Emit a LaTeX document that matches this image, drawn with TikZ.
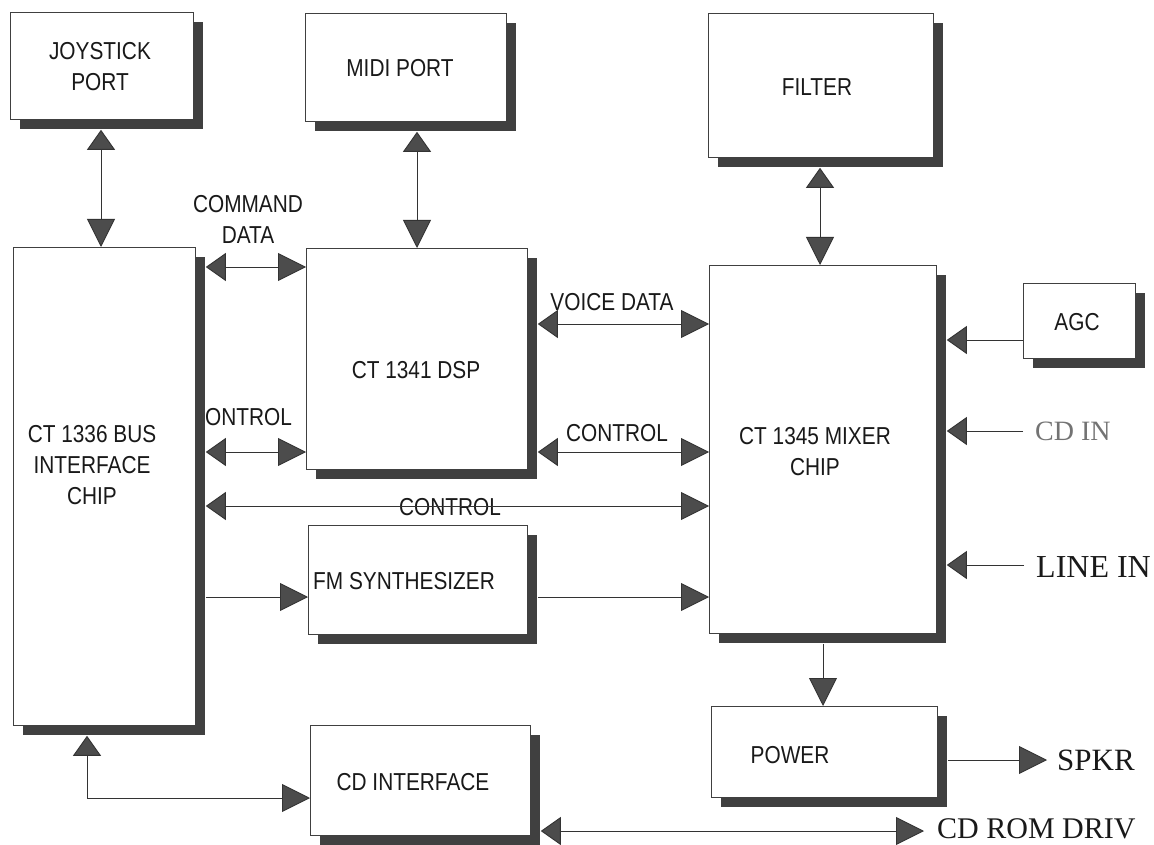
\documentclass[tikz,border=0pt]{standalone}
\usepackage{fontspec}
\setmainfont{Liberation Serif}
\newfontfamily\lsans[FakeStretch=0.85]{Liberation Sans}
\usetikzlibrary{arrows.meta,shadows,calc}
\tikzset{
  big/.tip={Triangle[length=28pt,width=28pt,fill=black!70]},
  sml/.tip={Triangle[length=20pt,width=28pt,fill=black!70]},
}
\begin{document}
\begin{tikzpicture}[x=1pt,y=-1pt,
  box/.style={draw=black!75, line width=0.8pt, fill=white, inner sep=0pt, anchor=north west,
     drop shadow={shadow xshift=10pt, shadow yshift=-10pt, fill=black!75, opacity=1}},
  lbl/.style={font=\lsans\fontsize{24.5}{31}\selectfont, inner sep=0pt, align=center, text=black!90},
  slbl/.style={font=\fontsize{32}{36}\selectfont, inner sep=0pt, anchor=west, text=black!90},
  conn/.style={draw=black!80, line width=0.9pt},
]
\useasboundingbox (0,0) rectangle (1154,845);
\clip (0,0) rectangle (1154,845);

% label partly hidden by the bus box
\node[lbl, anchor=west] (ctrlL) at (190,417) {CONTROL};

% boxes
\node[box, minimum width=183pt, minimum height=107pt] (joy) at (10,12) {};
\node[box, minimum width=201pt, minimum height=108pt] (midi) at (305,13) {};
\node[box, minimum width=225pt, minimum height=144pt] (filter) at (708,13) {};
\node[box, minimum width=182pt, minimum height=478pt] (bus) at (13,247) {};
\node[box, minimum width=221pt, minimum height=221pt] (dsp) at (306,248) {};
\node[box, minimum width=227pt, minimum height=368pt] (mixer) at (709,265) {};
\node[box, minimum width=112pt, minimum height=75pt] (agc) at (1023,283) {};
\node[box, minimum width=219pt, minimum height=109pt] (fm) at (308,525) {};
\node[box, minimum width=226pt, minimum height=91pt] (power) at (711,706) {};
\node[box, minimum width=220pt, minimum height=110pt] (cdi) at (310,725) {};

% texts
\node[lbl] (joytxt) at (100,67) {JOYSTICK\\PORT};
\node[lbl] (miditxt) at (400,68) {MIDI PORT};
\node[lbl] (filtertxt) at (817,87) {FILTER};
\node[lbl] (cmdtxt) at (248,219) {COMMAND\\DATA};
\node[lbl] (dsptxt) at (416,370) {CT 1341 DSP};
\node[lbl] (voicetxt) at (612,302) {VOICE DATA};
\node[lbl] (ctrlR) at (617,433) {CONTROL};
\node[lbl] (ctrlLong) at (450,507) {CONTROL};
\node[lbl] (bustxt) at (92,465) {CT 1336 BUS\\INTERFACE\\CHIP};
\node[lbl] (mixtxt) at (815,452) {CT 1345 MIXER\\CHIP};
\node[lbl] (agctxt) at (1077,322) {AGC};
\node[lbl, anchor=west] (fmtxt) at (313,581) {FM SYNTHESIZER};
\node[lbl] (powertxt) at (790,755) {POWER};
\node[lbl] (cditxt) at (413,782) {CD INTERFACE};
\node[slbl, font=\fontsize{28}{32}\selectfont, text=black!55] (cdin) at (1035,431) {CD IN};
\node[slbl] (linein) at (1036,567) {LINE IN};
\node[slbl, font=\fontsize{31}{35}\selectfont] (spkr) at (1057,760) {SPKR};
\node[slbl, font=\fontsize{30}{34}\selectfont] (cdrom) at (937,829) {CD ROM DRIV};

% connectors
\draw[conn, sml-big] ($(joy.south west)+(91,10)$) -- ($(bus.north west)+(88,0)$);
\draw[conn, sml-big] ($(midi.south west)+(112,10)$) -- ($(dsp.north west)+(111,0)$);
\draw[conn, sml-big] ($(filter.south west)+(112,10)$) -- ($(mixer.north west)+(111,0)$);
\draw[conn, sml-big] ($(bus.north east)+(10,20)$) -- ($(dsp.north west)+(0,19)$);
\draw[conn, sml-big] ($(bus.north east)+(10,205)$) -- ($(dsp.north west)+(0,204)$);
\draw[conn, sml-big] ($(dsp.north east)+(10,76)$) -- ($(mixer.north west)+(0,59)$);
\draw[conn, sml-big] ($(dsp.north east)+(10,204)$) -- ($(mixer.north west)+(0,187)$);
\draw[conn, sml-big] ($(bus.north east)+(10,259)$) -- ($(mixer.north west)+(0,241)$);
\draw[conn, -big] ($(bus.north east)+(10,350)$) -- ($(fm.north west)+(0,72)$);
\draw[conn, -big] ($(fm.north east)+(10,72)$) -- ($(mixer.north west)+(0,332)$);
\draw[conn, -sml] ($(agc.north west)+(0,57)$) -- ($(mixer.north east)+(10,75)$);
\draw[conn, -sml] ($(cdin.west)+(-12,0)$) -- ($(mixer.north east)+(10,166)$);
\draw[conn, -sml] ($(linein.west)+(-12,-2)$) -- ($(mixer.north east)+(10,300)$);
\draw[conn, -big] ($(mixer.south west)+(114,10)$) -- ($(power.north west)+(112,0)$);
\draw[conn, -big] ($(power.north east)+(10,54)$) -- ($(spkr.west)+(-10,0)$);
\draw[conn, sml-big] ($(cdi.north east)+(10,106)$) -- ($(cdrom.west)+(-13,2)$);
\draw[conn, sml-big] ($(bus.south west)+(74,10)$) |- ($(cdi.north west)+(0,73)$);
\end{tikzpicture}
\end{document}
